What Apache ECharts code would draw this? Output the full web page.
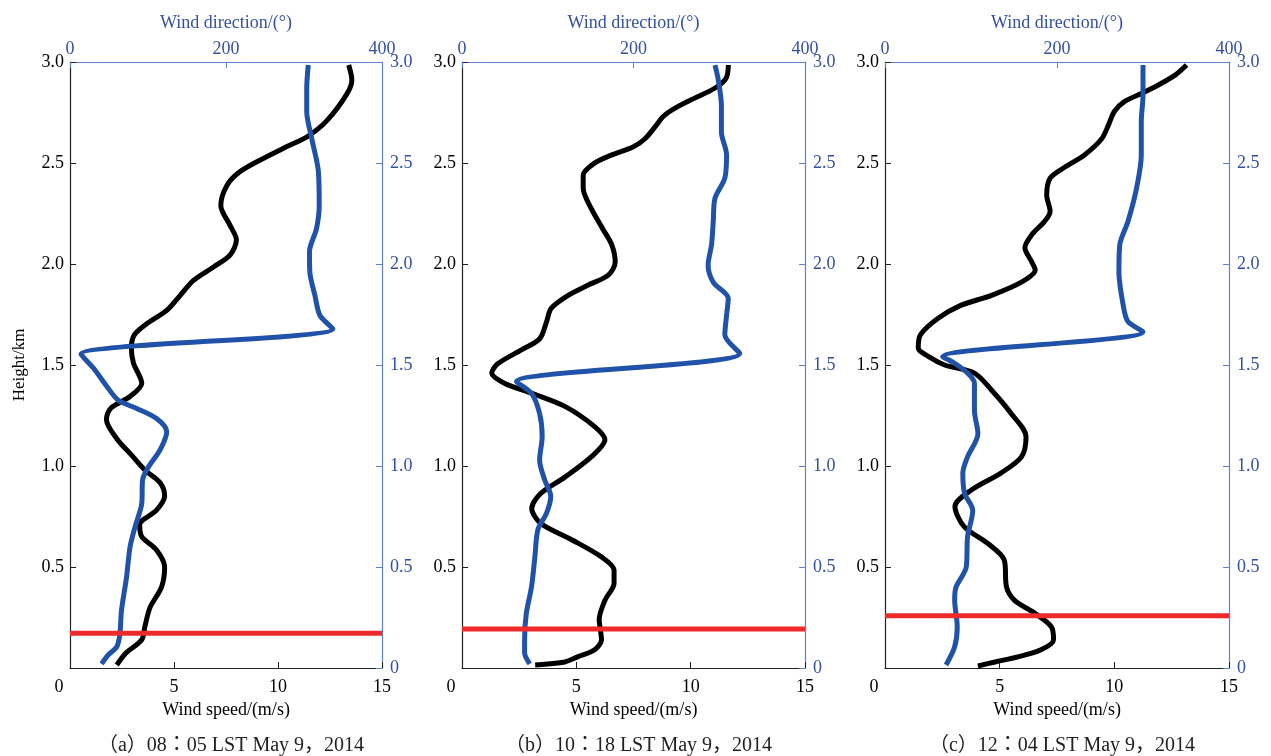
<!DOCTYPE html>
<html>
<head>
<meta charset="utf-8">
<script src="https://cdn.jsdelivr.net/npm/echarts@6/dist/echarts.min.js"></script>
<style>
html,body{margin:0;padding:0;background:#fff;}
#chart{width:1271px;height:756px;}
</style>
</head>
<body>
<div id="chart"></div>
<script>
// ---- Data: [value, height(km)] ----
const captions = ['（a）08：05 LST May 9，2014', '（b）10：18 LST May 9，2014', '（c）12：04 LST May 9，2014'];

const speedA = [[13.4,2.985],[13.55,2.91],[13.3,2.84],[12.35,2.71],[11.4,2.63],[10.4,2.58],[9.15,2.515],[8.15,2.455],[7.55,2.39],[7.25,2.29],[7.7,2.19],[8.0,2.12],[7.7,2.045],[6.9,1.985],[5.95,1.92],[5.3,1.845],[4.65,1.77],[3.7,1.705],[3.1,1.65],[2.95,1.585],[3.05,1.51],[3.45,1.41],[2.9,1.345],[1.95,1.285],[1.75,1.23],[2.25,1.135],[2.95,1.055],[3.6,0.98],[4.35,0.915],[4.55,0.85],[4.15,0.78],[3.35,0.71],[3.45,0.65],[4.15,0.585],[4.55,0.5],[4.4,0.4],[3.85,0.3],[3.6,0.205],[3.45,0.14],[2.7,0.075],[2.25,0.015]];
const dirA = [[305.5,2.985],[303.5,2.87],[303.5,2.755],[310,2.62],[318.5,2.455],[319.5,2.29],[316,2.175],[307,2.06],[307.5,1.96],[314,1.845],[320.5,1.745],[337,1.68],[14,1.553],[30,1.485],[47,1.395],[62,1.325],[85.5,1.285],[111,1.235],[124,1.17],[115.5,1.08],[100.5,0.995],[93,0.93],[92,0.815],[83.5,0.7],[77,0.6],[72.5,0.45],[66,0.285],[64,0.17],[60,0.105],[49,0.065],[40.5,0.02]];
const pblA = 0.172;

const speedB = [[11.65,2.985],[11.55,2.92],[11.05,2.87],[10.15,2.82],[9.3,2.77],[8.8,2.73],[8.45,2.68],[8.0,2.62],[7.5,2.58],[6.55,2.54],[5.8,2.5],[5.3,2.44],[5.3,2.375],[5.65,2.275],[6.15,2.175],[6.55,2.095],[6.7,2.01],[6.4,1.945],[5.5,1.895],[4.65,1.845],[3.9,1.78],[3.7,1.715],[3.4,1.63],[2.6,1.575],[1.55,1.505],[1.3,1.46],[1.85,1.41],[3.05,1.36],[4.5,1.295],[5.8,1.195],[6.25,1.13],[5.65,1.045],[4.5,0.945],[3.45,0.865],[3.05,0.79],[3.45,0.715],[4.8,0.635],[6.1,0.55],[6.65,0.485],[6.65,0.42],[6.25,0.335],[6.0,0.24],[6.1,0.14],[5.8,0.09],[5.05,0.055],[4.5,0.03],[3.2,0.015]];
const dirB = [[295,2.985],[298.5,2.92],[302.5,2.785],[302.5,2.655],[308.5,2.54],[306.5,2.425],[295,2.325],[293,2.21],[291,2.095],[287,1.995],[293,1.91],[310.5,1.83],[308.5,1.745],[306.5,1.65],[324,1.558],[63.5,1.417],[81,1.36],[90.5,1.26],[93.5,1.145],[90.5,1.03],[96.5,0.93],[103.5,0.85],[98.5,0.765],[88.5,0.685],[85,0.55],[81,0.4],[75,0.27],[73,0.14],[73,0.075],[79,0.02]];
const pblB = 0.193;

const speedC = [[13.15,2.985],[12.65,2.935],[11.9,2.885],[11.2,2.845],[10.45,2.805],[10.0,2.755],[9.75,2.69],[9.45,2.62],[8.7,2.54],[7.85,2.48],[7.2,2.425],[7.05,2.34],[7.2,2.26],[6.95,2.21],[6.4,2.145],[6.1,2.08],[6.4,2.01],[6.55,1.97],[5.95,1.91],[4.65,1.845],[3.3,1.795],[2.3,1.73],[1.55,1.65],[1.45,1.585],[2.0,1.535],[2.6,1.5],[3.9,1.46],[4.65,1.375],[5.5,1.26],[6.15,1.145],[5.95,1.045],[5.05,0.965],[3.75,0.88],[3.05,0.8],[3.45,0.7],[4.5,0.615],[5.2,0.535],[5.3,0.4],[5.65,0.335],[6.55,0.27],[7.25,0.205],[7.35,0.14],[6.8,0.09],[5.8,0.055],[4.8,0.03],[4.05,0.01]];
const dirC = [[300,2.985],[300,2.835],[298,2.705],[298,2.54],[292.5,2.375],[282.5,2.21],[273,2.095],[272,1.96],[277,1.795],[282.5,1.715],[300,1.665],[67,1.541],[80.5,1.51],[96,1.46],[104,1.41],[104,1.275],[108,1.16],[96,1.045],[90.5,0.965],[92.5,0.865],[102,0.78],[96,0.65],[94.5,0.5],[82.5,0.4],[81,0.335],[84,0.205],[81,0.105],[71,0.015]];
const pblC = 0.259;

const speedRange = [0, 15];
const dirRange = [0, 400];
const heightRange = [0, 3];

// ---- Styling / layout ----
const panels = [
  {speed: speedA, dir: dirA, pbl: pblA, left: 70, width: 312},
  {speed: speedB, dir: dirB, pbl: pblB, left: 462, width: 343},
  {speed: speedC, dir: dirC, pbl: pblC, left: 885, width: 344}
];
const TOP = 62, HEIGHT = 606;
const FONT = '"Liberation Serif", "Times New Roman", serif';
const BLUE_TXT = '#3450a0';
const BLUE_AX = '#5f7fcf';
const BLUE_LINE = '#1f52a8';

const grid = [], xAxis = [], yAxis = [], series = [], title = [];
panels.forEach((p, i) => {
  grid.push({left: p.left, top: TOP, width: p.width, height: HEIGHT, containLabel: false});
  // bottom speed axis
  xAxis.push({
    type: 'value', gridIndex: i, position: 'bottom',
    min: speedRange[0], max: speedRange[1], interval: 5,
    name: 'Wind speed/(m/s)', nameLocation: 'middle', nameGap: 30,
    nameTextStyle: {fontFamily: FONT, fontSize: 18, color: '#000'},
    axisLine: {show: true, onZero: false, lineStyle: {color: '#222', width: 1.2}},
    axisTick: {show: true, inside: true, length: 6, lineStyle: {color: '#222'}},
    axisLabel: {fontFamily: FONT, fontSize: 18, color: '#000', margin: 10,
      formatter: v => v === 0 ? '{z|0}' : String(v),
      rich: {z: {fontFamily: FONT, fontSize: 18, color: '#000', padding: [0, 22, 0, 0]}}},
    splitLine: {show: false}
  });
  // top direction axis
  xAxis.push({
    type: 'value', gridIndex: i, position: 'top',
    min: dirRange[0], max: dirRange[1], interval: 200,
    name: 'Wind direction/(°)', nameLocation: 'middle', nameGap: 30,
    nameTextStyle: {fontFamily: FONT, fontSize: 18, color: BLUE_TXT},
    axisLine: {show: true, onZero: false, lineStyle: {color: BLUE_AX, width: 1.2}},
    axisTick: {show: true, inside: true, length: 6, lineStyle: {color: BLUE_AX}},
    axisLabel: {fontFamily: FONT, fontSize: 18, color: BLUE_TXT, margin: 4},
    splitLine: {show: false}
  });
  // left height axis
  yAxis.push({
    type: 'value', gridIndex: i, position: 'left',
    min: heightRange[0], max: heightRange[1], interval: 0.5,
    name: i === 0 ? 'Height/km' : '', nameLocation: 'middle', nameGap: 42,
    nameTextStyle: {fontFamily: FONT, fontSize: 17, color: '#000'},
    axisLine: {show: true, onZero: false, lineStyle: {color: '#222', width: 1.2}},
    axisTick: {show: true, inside: true, length: 6, lineStyle: {color: '#222'}},
    axisLabel: {fontFamily: FONT, fontSize: 18, color: '#000', margin: 6,
      formatter: v => v === 0 ? '' : v.toFixed(1)},
    splitLine: {show: false}
  });
  // right height axis
  yAxis.push({
    type: 'value', gridIndex: i, position: 'right',
    min: heightRange[0], max: heightRange[1], interval: 0.5,
    axisLine: {show: true, onZero: false, lineStyle: {color: BLUE_AX, width: 1.2}},
    axisTick: {show: true, inside: true, length: 6, lineStyle: {color: BLUE_AX}},
    axisLabel: {fontFamily: FONT, fontSize: 18, color: BLUE_TXT, margin: 8,
      formatter: v => v === 0 ? '0' : v.toFixed(1)},
    splitLine: {show: false}
  });
  series.push({
    type: 'line', xAxisIndex: 2 * i, yAxisIndex: 2 * i, data: p.speed,
    smooth: 0.3, showSymbol: false, symbol: 'none',
    lineStyle: {color: '#000', width: 5}, z: 2
  });
  series.push({
    type: 'line', xAxisIndex: 2 * i + 1, yAxisIndex: 2 * i, data: p.dir,
    smooth: 0.3, showSymbol: false, symbol: 'none',
    lineStyle: {color: BLUE_LINE, width: 5}, z: 3
  });
  series.push({
    type: 'line', xAxisIndex: 2 * i, yAxisIndex: 2 * i,
    data: [[speedRange[0], p.pbl], [speedRange[1], p.pbl]],
    showSymbol: false, symbol: 'none',
    lineStyle: {color: '#ee2a2a', width: 5}, z: 4
  });
  title.push({
    text: captions[i], left: p.left + p.width / 2, top: 731, textAlign: 'center',
    textStyle: {fontFamily: '"Liberation Serif", "Noto Sans CJK JP", serif', fontSize: 20, fontWeight: 'normal', color: '#222'}
  });
});

const chart = echarts.init(document.getElementById('chart'), null, {renderer: 'canvas'});
chart.setOption({
  animation: false,
  backgroundColor: '#fff',
  title, grid, xAxis, yAxis, series
});
</script>
</body>
</html>
